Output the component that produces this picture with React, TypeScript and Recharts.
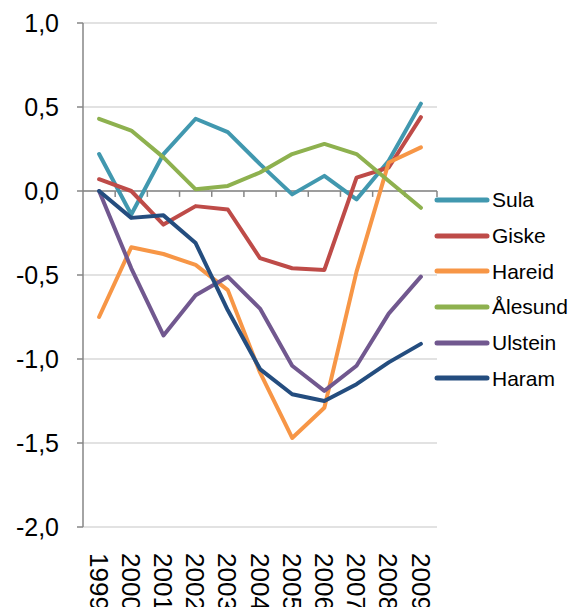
import React from 'react';
import { LineChart, Line, XAxis, YAxis, CartesianGrid, ReferenceLine, Legend } from 'recharts';

const years = [1999, 2000, 2001, 2002, 2003, 2004, 2005, 2006, 2007, 2008, 2009];
const sula = [0.22, -0.14, 0.22, 0.43, 0.35, 0.16, -0.02, 0.09, -0.05, 0.18, 0.52];
const giske = [0.07, 0.0, -0.2, -0.09, -0.11, -0.4, -0.46, -0.47, 0.08, 0.14, 0.44];
const hareid = [-0.75, -0.335, -0.375, -0.44, -0.59, -1.08, -1.47, -1.29, -0.48, 0.17, 0.26];
const alesund = [0.43, 0.36, 0.2, 0.01, 0.03, 0.11, 0.22, 0.28, 0.22, 0.06, -0.1];
const ulstein = [0.0, -0.46, -0.86, -0.62, -0.51, -0.7, -1.04, -1.19, -1.04, -0.73, -0.51];
const haram = [0.0, -0.16, -0.145, -0.31, -0.71, -1.06, -1.21, -1.25, -1.15, -1.02, -0.91];
const yTicks = [-2, -1.5, -1, -0.5, 0, 0.5, 1];

const seriesNames = ['Sula', 'Giske', 'Hareid', 'Ålesund', 'Ulstein', 'Haram'];
const seriesValues = [sula, giske, hareid, alesund, ulstein, haram];
const seriesColors = ['#4198AF', '#BE4B48', '#F79646', '#8EB14F', '#71588F', '#244D7F'];

const data = years.map((year, i) => {
  const row: Record<string, number> = { year };
  seriesNames.forEach((n, s) => {
    row[n] = seriesValues[s][i];
  });
  return row;
});

const boundaries = years.map((y) => y + 0.5);

const FONT = '"Liberation Sans", Arial, sans-serif';

const XTick = (props: any) => {
  const { x, y, payload } = props;
  return (
    <g transform={`translate(${x},${y})`}>
      <text
        transform="rotate(90)"
        x={26}
        y={0}
        dy="0.36em"
        textAnchor="start"
        fontSize={26}
        fontFamily={FONT}
        fill="#000"
      >
        {payload.value}
      </text>
    </g>
  );
};

const LegendContent = (props: any) => {
  const { payload } = props;
  const items = [...(payload || [])].sort(
    (a: any, b: any) => seriesNames.indexOf(a.value) - seriesNames.indexOf(b.value)
  );
  return (
    <div style={{ fontFamily: FONT, fontSize: 21, color: '#000' }}>
      {items.map((item: any) => (
        <div key={item.value} style={{ height: 35.7, display: 'flex', alignItems: 'center' }}>
          <svg width={59} height={10} style={{ display: 'block' }}>
            <line x1={4} y1={5} x2={54} y2={5} stroke={item.color} strokeWidth={5} strokeLinecap="round" />
          </svg>
          <span style={{ lineHeight: '21px' }}>{item.value}</span>
        </div>
      ))}
    </div>
  );
};

export default function App() {
  return (
    <div style={{ position: 'absolute', left: 0, top: 0, background: '#fff' }}>
      <LineChart
        width={572}
        height={607}
        data={data}
        margin={{ top: 23, right: 0, bottom: 0, left: 0 }}
      >
        <CartesianGrid vertical={false} stroke="#D9D9D9" strokeWidth={1.5} />
        <XAxis
          dataKey="year"
          type="number"
          domain={[1998.5, 2009.5]}
          ticks={years}
          interval={0}
          tick={<XTick />}
          tickLine={false}
          axisLine={false}
          tickSize={0}
          tickMargin={0}
          height={80}
        />
        <YAxis
          type="number"
          domain={[-2, 1]}
          ticks={yTicks}
          interval={0}
          width={83}
          tickFormatter={(v: number) => v.toFixed(1).replace('.', ',')}
          tick={{ fontSize: 25, fontFamily: FONT, fill: '#000' }}
          tickSize={6}
          tickMargin={18}
          tickLine={{ stroke: '#868686', strokeWidth: 1.5 }}
          axisLine={{ stroke: '#868686', strokeWidth: 1.5 }}
        />
        <ReferenceLine y={0} stroke="#868686" strokeWidth={1.5} />
        {boundaries.map((b) => (
          <ReferenceLine
            key={b}
            segment={[
              { x: b, y: 0 },
              { x: b, y: -0.035 },
            ]}
            stroke="#868686"
            strokeWidth={1.5}
          />
        ))}
        <Legend
          layout="vertical"
          align="right"
          verticalAlign="top"
          wrapperStyle={{ left: 433, top: 182, width: 135 }}
          content={<LegendContent />}
        />
        {seriesNames.map((n, s) => (
          <Line
            key={n}
            type="linear"
            dataKey={n}
            stroke={seriesColors[s]}
            strokeWidth={4}
            strokeLinecap="round"
            strokeLinejoin="round"
            dot={false}
            activeDot={false}
            isAnimationActive={false}
          />
        ))}
      </LineChart>
    </div>
  );
}
